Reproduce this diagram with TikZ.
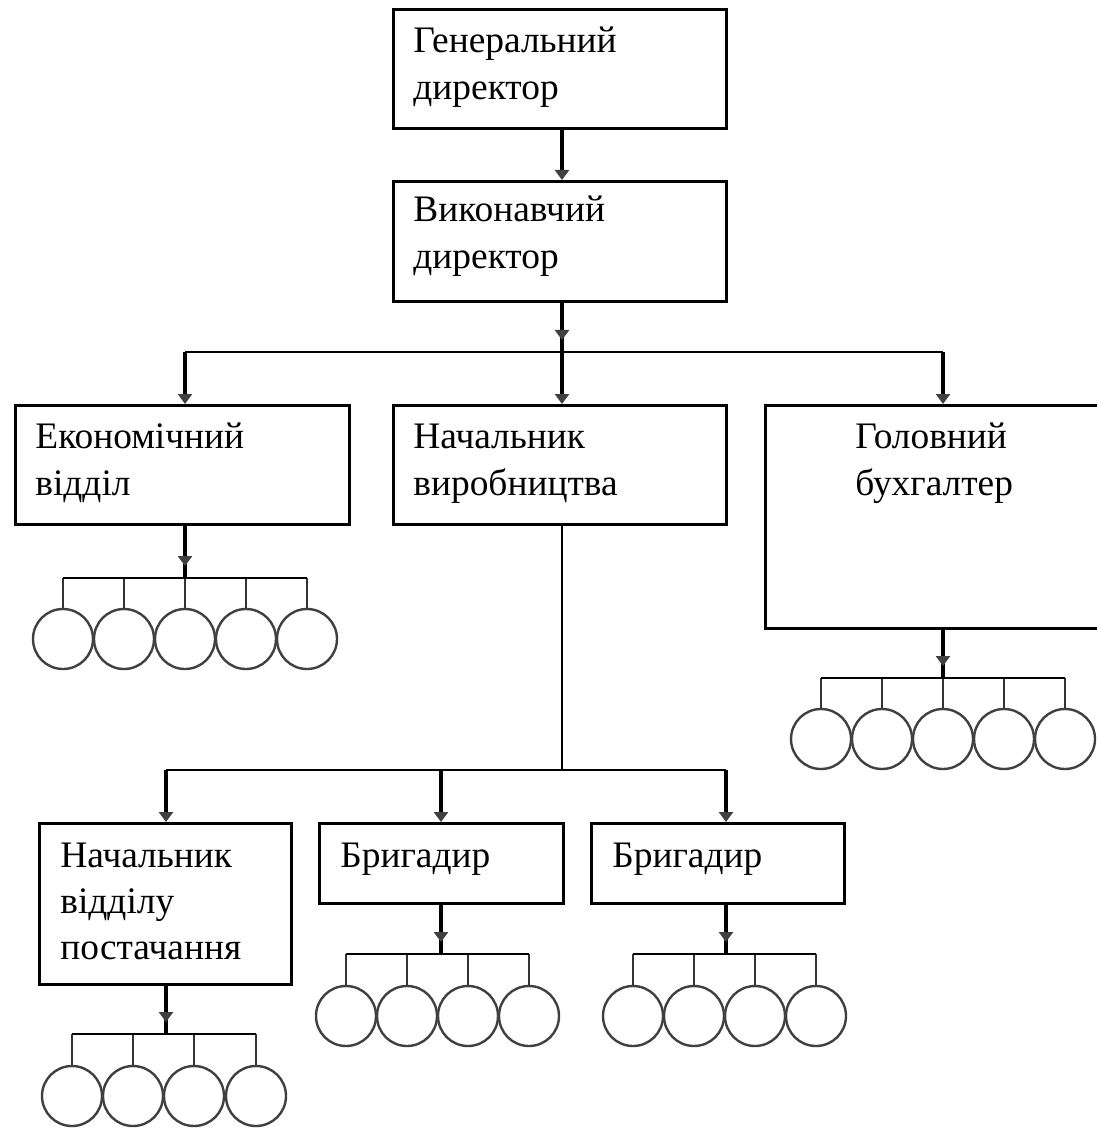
\documentclass[tikz,border=0pt]{standalone}
\usepackage{fontspec}
\setmainfont{Liberation Serif}
\usetikzlibrary{arrows.meta,decorations.markings}
\begin{document}
\begin{tikzpicture}[x=0.5pt,y=-0.5pt,
  box/.style={draw, line width=1.3pt, inner sep=0pt, anchor=north west},
  lbl/.style={font=\fontsize{18.7}{23.5}\selectfont, align=left, text width=8cm, anchor=base west, inner sep=0pt},
  main/.style={line width=1.8pt},
  bus/.style={line width=1.3pt},
  tick/.style={line width=1.2pt, draw=black!80},
  dot/.style={circle, draw=black!75, line width=1.2pt, minimum size=30pt, inner sep=0pt},
  tipto/.style={-{Triangle[width=7pt,length=5pt,color=black!75]}},
  midarr/.style={postaction={decorate,decoration={markings,mark=at position -6pt with {\arrow[black!75]{Triangle[width=7pt,length=5pt]}}}}}
]
\useasboundingbox (0,0) rectangle (1096,1128);

% boxes
\node[box, minimum width=166.5pt, minimum height=59.5pt] (gen) at (392,8) {};
\node[box, minimum width=166.5pt, minimum height=60pt] (exec) at (392,180) {};
\node[box, minimum width=167pt, minimum height=59.5pt] (econ) at (14,404) {};
\node[box, minimum width=166.5pt, minimum height=59.5pt] (prod) at (392,404) {};
\node[box, minimum width=170pt, minimum height=111.5pt] (acc) at (764,404) {};
\node[box, minimum width=126pt, minimum height=80.5pt] (sup) at (38,822) {};
\node[box, minimum width=122pt, minimum height=40pt] (brA) at (318,822) {};
\node[box, minimum width=126.5pt, minimum height=40pt] (brB) at (590,822) {};

% labels
\node[lbl] (tgen) at (413,53) {Генеральний\\директор};
\node[lbl] (texec) at (413,222) {Виконавчий\\директор};
\node[lbl] (tecon) at (35,448) {Економічний\\відділ};
\node[lbl] (tprod) at (413,448) {Начальник\\виробництва};
\node[lbl] (tacc) at (855,448) {Головний\\бухгалтер};
\node[lbl, font=\fontsize{18.7}{23}\selectfont] (tsup) at (60,867) {Начальник\\відділу\\постачання};
\node[lbl] (tbrA) at (340,867) {Бригадир};
\node[lbl] (tbrB) at (612,867) {Бригадир};

% top connectors
\coordinate (cx) at (562,0);
\draw[main, tipto] (gen.south -| cx) -- (exec.north -| cx);

\coordinate (b) at (562,352);
\coordinate (bl) at (185,352);
\coordinate (br) at (943,352);
\draw[main, midarr] (exec.south -| cx) -- (b);
\draw[bus] (bl) -- (br);
\draw[main, tipto] (bl) -- (bl |- econ.north);
\draw[main, tipto] (b) -- (b |- prod.north);
\draw[main, tipto] (br) -- (br |- acc.north);

\coordinate (p) at (562,770);
\coordinate (pl) at (166,770);
\coordinate (pm) at (441,770);
\coordinate (pr) at (726,770);
\draw[bus] (prod.south -| cx) -- (p);
\draw[bus] (pl) -- (pr);
\draw[main, tipto] (pl) -- (pl |- sup.north);
\draw[main, tipto] (pm) -- (pm |- brA.north);
\draw[main, tipto] (pr) -- (pr |- brB.north);

% econ group
\coordinate (eb) at (185,578);
\foreach \i/\x in {1/63,2/124,3/185,4/246,5/307} {
  \node[dot] (e\i) at (\x,639) {};
  \draw[tick] (e\i.north) -- (e\i.north |- eb);
}
\draw[bus] (e1.north |- eb) -- (e5.north |- eb);
\draw[main, midarr] (econ.south -| eb) -- (eb);

% accountant group
\coordinate (ab) at (943,678);
\foreach \i/\x in {1/821,2/882,3/943,4/1004,5/1065} {
  \node[dot] (a\i) at (\x,739) {};
  \draw[tick] (a\i.north) -- (a\i.north |- ab);
}
\draw[bus] (a1.north |- ab) -- (a5.north |- ab);
\draw[main, midarr] (acc.south -| ab) -- (ab);

% supply group
\coordinate (sb) at (166,1034);
\foreach \i/\x in {1/72,2/133,3/194,4/256} {
  \node[dot] (s\i) at (\x,1096) {};
  \draw[tick] (s\i.north) -- (s\i.north |- sb);
}
\draw[bus] (s1.north |- sb) -- (s4.north |- sb);
\draw[main, midarr] (sup.south -| sb) -- (sb);

% brigade A group
\coordinate (gb) at (441,954);
\foreach \i/\x in {1/346,2/407,3/468,4/529} {
  \node[dot] (g\i) at (\x,1016) {};
  \draw[tick] (g\i.north) -- (g\i.north |- gb);
}
\draw[bus] (g1.north |- gb) -- (g4.north |- gb);
\draw[main, midarr] (brA.south -| gb) -- (gb);

% brigade B group
\coordinate (hb) at (726,954);
\foreach \i/\x in {1/633,2/694,3/755,4/816} {
  \node[dot] (h\i) at (\x,1016) {};
  \draw[tick] (h\i.north) -- (h\i.north |- hb);
}
\draw[bus] (h1.north |- hb) -- (h4.north |- hb);
\draw[main, midarr] (brB.south -| hb) -- (hb);
\end{tikzpicture}
\end{document}
